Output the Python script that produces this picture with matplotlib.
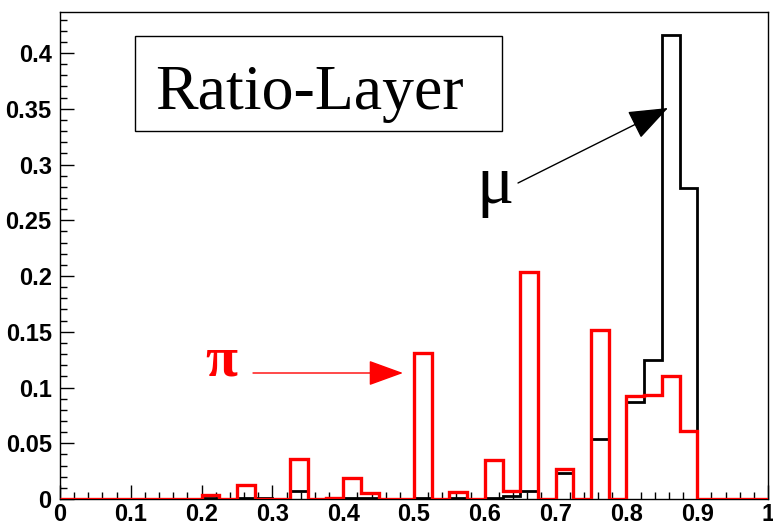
import matplotlib
matplotlib.use("Agg")
import matplotlib.pyplot as plt
from matplotlib.patches import FancyArrowPatch, Rectangle
from matplotlib.ticker import MultipleLocator
import numpy as np

W, H = 773, 525

# 40 bins of width 0.025 between 0 and 1
bin_edges = np.linspace(0.0, 1.0, 41)

mu_values = [0, 0, 0, 0, 0, 0, 0, 0,
             0.001, 0, 0.001, 0.001, 0, 0.007, 0, 0.001,
             0.001, 0.001, 0, 0, 0.001, 0, 0.001, 0,
             0.001, 0.003, 0.007, 0, 0.023, 0, 0.054, 0,
             0.087, 0.125, 0.416, 0.279, 0, 0, 0, 0]

pi_values = [0, 0, 0, 0, 0, 0, 0, 0,
             0.004, 0, 0.013, 0, 0, 0.036, 0, 0.001,
             0.019, 0.005, 0, 0, 0.131, 0, 0.006, 0,
             0.035, 0.007, 0.204, 0, 0.027, 0, 0.152, 0,
             0.092, 0.093, 0.110, 0.061, 0, 0, 0, 0]

x_ticks = [0, 0.1, 0.2, 0.3, 0.4, 0.5, 0.6, 0.7, 0.8, 0.9, 1]
x_tick_labels = ["0", "0.1", "0.2", "0.3", "0.4", "0.5", "0.6", "0.7", "0.8", "0.9", "1"]
y_ticks = [0, 0.05, 0.1, 0.15, 0.2, 0.25, 0.3, 0.35, 0.4]
y_tick_labels = ["0", "0.05", "0.1", "0.15", "0.2", "0.25", "0.3", "0.35", "0.4"]

title_text = "Ratio-Layer"


def fx(x):
    return x / W


def fy(y):
    return 1 - y / H


fig = plt.figure(figsize=(W / 100, H / 100), dpi=100)
ax = fig.add_axes([fx(60), fy(499), fx(768) - fx(60), fy(12) - fy(499)])

ax.stairs(mu_values, bin_edges, color="black", linewidth=2.0, zorder=3)
ax.stairs(pi_values, bin_edges, color="#ff0000", linewidth=2.4, zorder=4)

ax.set_xlim(0, 1)
ax.set_ylim(0, 1.05 * max(mu_values))

ax.set_xticks(x_ticks)
ax.set_xticklabels(x_tick_labels)
ax.set_yticks(y_ticks)
ax.set_yticklabels(y_tick_labels)
ax.xaxis.set_minor_locator(MultipleLocator(0.02))
ax.yaxis.set_minor_locator(MultipleLocator(0.01))

ax.tick_params(which="both", direction="in", top=False, right=False,
               width=1.0, color="black")
ax.tick_params(which="major", axis="x", length=10, pad=3)
ax.tick_params(which="minor", axis="x", length=5)
ax.tick_params(which="major", axis="y", length=10, pad=6)
ax.tick_params(which="minor", axis="y", length=5)

for lab in ax.get_xticklabels() + ax.get_yticklabels():
    lab.set_fontfamily("Liberation Sans")
    lab.set_fontweight("bold")
    lab.set_fontsize(17)

for sp in ax.spines.values():
    sp.set_linewidth(1.0)
    sp.set_color("black")

# Title box
fig.patches.append(Rectangle((fx(135), fy(131)), fx(502) - fx(135), fy(36) - fy(131),
                             transform=fig.transFigure, fill=False,
                             edgecolor="black", linewidth=1.0, zorder=5))
fig.text(fx(155), fy(109), title_text, family="Liberation Serif",
         fontsize=46, color="black", ha="left", va="baseline", zorder=6)

# Particle labels
fig.text(fx(221), fy(375), "π", family="Liberation Serif", fontweight="bold",
         fontsize=42, color="#ff0000", ha="center", va="baseline")
fig.text(fx(495), fy(203), "μ", family="Liberation Serif",
         fontsize=50, color="black", ha="center", va="baseline")

# Arrows
fig.patches.append(FancyArrowPatch((fx(253), fy(373)), (fx(403), fy(373)),
                                   transform=fig.transFigure,
                                   arrowstyle="-|>,head_length=22,head_width=8",
                                   mutation_scale=1, color="#ff0000",
                                   linewidth=1.0, shrinkA=0, shrinkB=0))
fig.patches.append(FancyArrowPatch((fx(518), fy(183)), (fx(668), fy(108)),
                                   transform=fig.transFigure,
                                   arrowstyle="-|>,head_length=25,head_width=9.5",
                                   mutation_scale=1, color="black",
                                   linewidth=1.0, shrinkA=0, shrinkB=0))

fig.savefig("out.png", dpi=100)
